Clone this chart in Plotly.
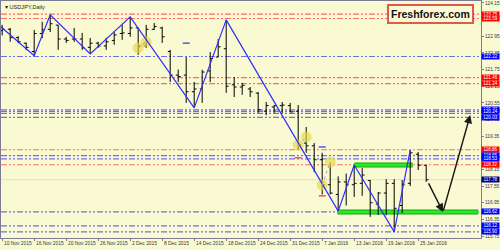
import plotly.graph_objects as go

# ---------------- data ----------------
bar_dates = ["10 Nov", "11 Nov", "12 Nov", "13 Nov", "16 Nov", "17 Nov", "18 Nov", "19 Nov", "20 Nov",
             "23 Nov", "24 Nov", "25 Nov", "26 Nov", "27 Nov", "30 Nov", "1 Dec", "2 Dec", "3 Dec",
             "4 Dec", "7 Dec", "8 Dec", "9 Dec", "10 Dec", "11 Dec", "14 Dec", "15 Dec", "16 Dec",
             "17 Dec", "18 Dec", "21 Dec", "22 Dec", "23 Dec", "24 Dec", "28 Dec", "29 Dec", "30 Dec",
             "31 Dec", "4 Jan", "5 Jan", "6 Jan", "7 Jan", "8 Jan", "11 Jan", "12 Jan", "13 Jan",
             "14 Jan", "15 Jan", "18 Jan", "19 Jan", "20 Jan", "21 Jan", "22 Jan", "25 Jan", "26 Jan"]
open_ = [123.15, 123.20, 122.90, 122.70, 122.40, 123.05, 123.20, 123.35, 122.85, 122.85, 122.85, 122.55,
         122.70, 122.60, 122.80, 123.05, 123.05, 123.25, 122.60, 123.20, 123.25, 122.40, 121.55, 121.55,
         120.95, 121.05, 121.70, 122.20, 122.50, 121.20, 121.12, 121.05, 120.90, 120.25, 120.40, 120.45,
         120.45, 120.25, 119.10, 119.00, 118.50, 117.60, 117.25, 117.70, 117.60, 117.65, 117.75, 116.90,
         117.30, 117.65, 116.85, 117.65, 118.70, 118.30]
high = [123.36, 123.25, 122.95, 122.72, 123.18, 123.47, 123.72, 123.36, 122.93, 123.25, 123.07, 122.89,
        122.75, 122.89, 123.10, 123.36, 123.65, 123.25, 123.36, 123.43, 123.29, 122.46, 121.75, 122.20,
        121.30, 121.74, 122.38, 122.85, 123.54, 121.48, 121.27, 121.12, 120.94, 120.58, 120.47, 120.58,
        120.55, 120.47, 119.68, 119.10, 118.75, 118.40, 117.90, 118.00, 118.31, 118.20, 117.77, 117.34,
        117.80, 117.80, 117.77, 118.85, 118.78, 118.31]
low = [122.98, 122.75, 122.70, 122.45, 122.25, 122.88, 123.10, 122.46, 122.71, 122.75, 122.46, 122.31,
       122.53, 122.46, 122.64, 122.82, 122.93, 122.28, 122.53, 123.18, 122.71, 121.30, 121.30, 120.55,
       120.37, 120.55, 121.30, 122.20, 120.91, 120.76, 120.84, 120.76, 120.19, 120.11, 120.19, 120.19,
       120.22, 118.85, 118.75, 118.05, 117.25, 117.25, 116.65, 116.85, 117.16, 117.20, 116.44, 116.51,
       116.50, 115.90, 116.58, 117.55, 118.13, 117.70]
close = [123.20, 122.90, 122.75, 122.55, 123.05, 123.18, 123.40, 122.85, 122.80, 122.85, 122.53, 122.70,
         122.60, 122.75, 123.00, 123.07, 123.25, 122.60, 123.20, 123.30, 122.93, 121.55, 121.50, 120.95,
         121.05, 121.66, 122.15, 122.57, 121.15, 121.12, 121.18, 120.95, 120.30, 120.45, 120.45, 120.47,
         120.22, 119.05, 119.00, 118.50, 117.60, 117.30, 117.70, 117.60, 117.65, 117.95, 116.95, 117.30,
         117.65, 116.75, 117.60, 118.75, 118.30, 117.78]

# zigzag (bar index, price)
zz_idx = [-1, 4, 6, 11, 16, 24, 28, 42, 44, 49, 51]
zz_price = [123.50, 122.25, 123.72, 122.31, 123.65, 120.37, 123.54, 116.65, 118.31, 115.90, 118.85]

# horizontal levels
red_levels = [123.75, 123.59, 121.46, 121.24, 118.86, 118.32]
blue_levels = [122.22, 120.30, 120.24, 120.17, 120.03, 118.65, 118.53, 116.62, 116.12, 115.90]
bid_level = 117.78
green_low = {"x": [41.9, 59.5], "y": 116.62}
green_high = {"x": [44.0, 51.3], "y": 118.31}

# label boxes on the price scale
box_values = [123.75, 123.59, 122.22, 121.46, 121.24, 120.30, 120.24, 120.03, 118.86, 118.65, 118.53,
              118.32, 117.78, 116.62, 116.12, 115.90]
box_colors = ["#ff0000", "#ff0000", "#0000ff", "#ff0000", "#ff0000", "#0000ff", "#0000ff", "#0000ff",
              "#ff0000", "#0000ff", "#0000ff", "#ff0000", "#000080", "#0000ff", "#0000ff", "#0000ff"]

# forecast arrows (tail idx, tail price, head idx, head price)
arrows = [(53.2, 117.70, 55.1, 116.62), (55.1, 116.62, 58.5, 120.11)]

# highlighted points (pairs joined by dotted connectors)
circ_idx = [17, 18, 37, 38, 40, 41]
circ_price = [122.53, 122.75, 119.03, 119.32, 117.59, 118.42]

# small signal dashes
sig_blue_idx = [23, 40]
sig_blue_price = [122.70, 118.96]
sig_red_idx = [37, 40]
sig_red_price = [118.57, 117.20]

# x-axis labels
label_idx = [0, 4, 8, 12, 16, 20, 24, 28, 32, 36, 40, 44, 48, 52]
label_text = ["10 Nov 2015", "16 Nov 2015", "20 Nov 2015", "26 Nov 2015", "2 Dec 2015", "8 Dec 2015",
              "14 Dec 2015", "18 Dec 2015", "24 Dec 2015", "31 Dec 2015", "7 Jan 2016", "13 Jan 2016",
              "19 Jan 2016", "25 Jan 2016"]
y_ticks = [115.75 + 0.6 * k for k in range(15)]

# ---------------- figure ----------------
BG = "#fafad2"
RED = "#ff6a6a"
BLUE = "#6f6ff2"
DASH = "6px,2px,2px,2px,2px,2px"
FONT = "Liberation Sans"
x = list(range(len(bar_dates)))

fig = go.Figure()

shapes = []
for v in red_levels:
    shapes.append(dict(type="line", xref="paper", x0=0, x1=1, yref="y", y0=v, y1=v,
                       line=dict(color=RED, width=1.2, dash=DASH), layer="below"))
for v in blue_levels:
    shapes.append(dict(type="line", xref="paper", x0=0, x1=1, yref="y", y0=v, y1=v,
                       line=dict(color=BLUE, width=1.2, dash=DASH), layer="below"))
shapes.append(dict(type="line", xref="paper", x0=0, x1=1, yref="y", y0=bid_level, y1=bid_level,
                   line=dict(color="#deded0", width=1), layer="below"))
for g in (green_low, green_high):
    shapes.append(dict(type="line", xref="x", x0=g["x"][0], x1=g["x"][1], yref="y", y0=g["y"], y1=g["y"],
                       line=dict(color="#19a019", width=5), layer="below"))
    shapes.append(dict(type="line", xref="x", x0=g["x"][0], x1=g["x"][1], yref="y", y0=g["y"], y1=g["y"],
                       line=dict(color="#22ee22", width=3), layer="below"))
for k in range(0, len(circ_idx), 2):
    shapes.append(dict(type="line", xref="x", yref="y", x0=circ_idx[k], y0=circ_price[k],
                       x1=circ_idx[k + 1], y1=circ_price[k + 1],
                       line=dict(color="#a0a0b0", width=1, dash="dot")))

fig.add_trace(go.Scatter(x=circ_idx, y=circ_price, mode="markers",
                         marker=dict(size=11, color="rgba(230,215,70,0.65)", line=dict(width=0)),
                         hoverinfo="skip"))

fig.add_trace(go.Ohlc(x=x, open=open_, high=high, low=low, close=close,
                      increasing=dict(line=dict(color="#000000", width=1)),
                      decreasing=dict(line=dict(color="#000000", width=1)),
                      tickwidth=0.3, hoverinfo="skip"))

fig.add_trace(go.Scatter(x=zz_idx, y=zz_price, mode="lines",
                         line=dict(color="#2f2fff", width=1.2), hoverinfo="skip"))

fig.add_trace(go.Scatter(x=sig_blue_idx, y=sig_blue_price, mode="markers",
                         marker=dict(symbol="line-ew", size=5, line=dict(color="#5050ff", width=1.5)),
                         hoverinfo="skip"))
fig.add_trace(go.Scatter(x=sig_red_idx, y=sig_red_price, mode="markers",
                         marker=dict(symbol="line-ew", size=5, line=dict(color="#ff5050", width=1.5)),
                         hoverinfo="skip"))

annotations = []
for v, c in zip(box_values, box_colors):
    annotations.append(dict(xref="paper", x=1, xanchor="left", xshift=0, yref="y", y=v, yanchor="middle",
                            text=f"{v:.2f}", showarrow=False, bgcolor=c, borderpad=0, width=17, height=5,
                            font=dict(color="white", size=4.6, family=FONT)))
for (tx, ty, hx, hy) in arrows:
    annotations.append(dict(x=hx, y=hy, ax=tx, ay=ty, xref="x", yref="y", axref="x", ayref="y",
                            showarrow=True, arrowhead=2, arrowsize=1.1, arrowwidth=1.5,
                            arrowcolor="#1a1a1a", text=""))
for i, t in zip(label_idx, label_text):
    annotations.append(dict(xref="x", x=i, xanchor="left", yref="paper", y=0, yanchor="top", yshift=-1,
                            text=t, showarrow=False,
                            font=dict(color="#333344", size=4.9, family=FONT)))
annotations.append(dict(xref="paper", x=0.004, xanchor="left", yref="paper", y=0.997, yanchor="top",
                        text="▾ USDJPY,Daily", showarrow=False,
                        font=dict(color="#222222", size=5.6, family=FONT)))
annotations.append(dict(xref="paper", x=0.894, xanchor="center", yref="paper", y=0.945, yanchor="middle",
                        text="<b>Freshforex.com</b>", showarrow=False, bgcolor="#fbfbd8",
                        bordercolor="#e05a4a", borderwidth=2, borderpad=2,
                        font=dict(color="#111111", size=10.5, family=FONT)))

fig.update_layout(
    width=500, height=250,
    margin=dict(l=1, r=19, t=1, b=12),
    paper_bgcolor=BG, plot_bgcolor=BG,
    showlegend=False,
    shapes=shapes, annotations=annotations,
    xaxis=dict(range=[-0.15, 59.85], showgrid=False, zeroline=False, showline=True, mirror=True,
               linecolor="#7c7c94", linewidth=1, tickvals=label_idx, showticklabels=False,
               ticks="outside", ticklen=2, tickcolor="#7c7c94", rangeslider=dict(visible=False),
               automargin=False, fixedrange=True),
    yaxis=dict(range=[115.68, 124.22], side="right", showgrid=False, zeroline=False, showline=True,
               mirror=True, linecolor="#7c7c94", linewidth=1, tickvals=y_ticks,
               ticktext=[f"{v:.2f}" for v in y_ticks], ticks="outside", ticklen=2,
               tickcolor="#7c7c94", tickfont=dict(size=4.8, color="#333344", family=FONT),
               automargin=False, fixedrange=True),
)

fig.write_html("out.html")
